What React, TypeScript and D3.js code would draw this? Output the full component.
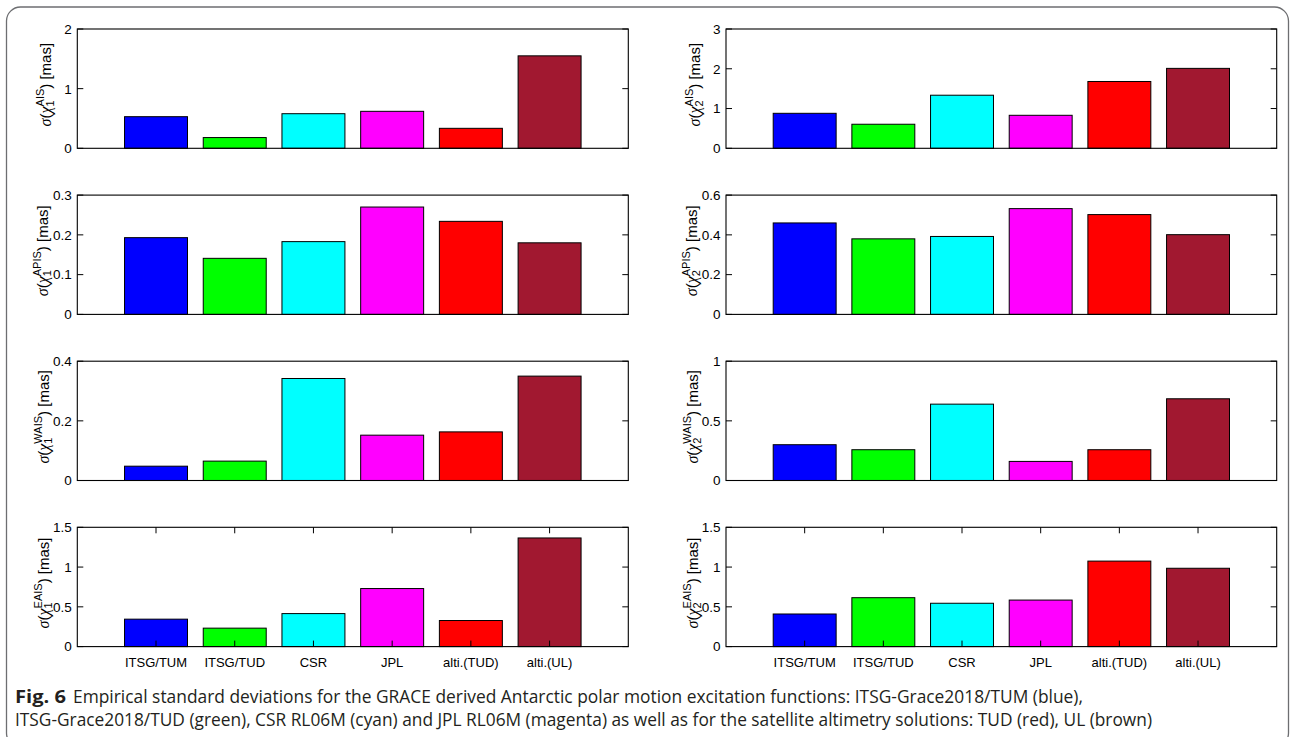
import React from "react";
import * as d3 from "d3";

const categories = ["ITSG/TUM", "ITSG/TUD", "CSR", "JPL", "alti.(TUD)", "alti.(UL)"];
const barColors = ["#0000ff", "#00ff00", "#00ffff", "#ff00ff", "#ff0000", "#a11830"];

const regions = ["AIS", "APIS", "WAIS", "EAIS"];

const chi1AIS = [0.53, 0.18, 0.58, 0.62, 0.335, 1.55];
const chi2AIS = [0.88, 0.605, 1.335, 0.83, 1.68, 2.01];
const chi1APIS = [0.193, 0.141, 0.183, 0.27, 0.234, 0.18];
const chi2APIS = [0.46, 0.38, 0.392, 0.532, 0.502, 0.401];
const chi1WAIS = [0.048, 0.065, 0.342, 0.152, 0.163, 0.35];
const chi2WAIS = [0.3, 0.258, 0.64, 0.16, 0.258, 0.685];
const chi1EAIS = [0.345, 0.232, 0.415, 0.73, 0.328, 1.366];
const chi2EAIS = [0.41, 0.615, 0.545, 0.585, 1.075, 0.985];

const ticks1 = [[0, 1, 2], [0, 0.1, 0.2, 0.3], [0, 0.2, 0.4], [0, 0.5, 1, 1.5]];
const ticks2 = [[0, 1, 2, 3], [0, 0.2, 0.4, 0.6], [0, 0.5, 1], [0, 0.5, 1, 1.5]];
const tickLabels1 = [["0", "1", "2"], ["0", "0.1", "0.2", "0.3"], ["0", "0.2", "0.4"], ["0", "0.5", "1", "1.5"]];
const tickLabels2 = [["0", "1", "2", "3"], ["0", "0.2", "0.4", "0.6"], ["0", "0.5", "1"], ["0", "0.5", "1", "1.5"]];

const values1 = [chi1AIS, chi1APIS, chi1WAIS, chi1EAIS];
const values2 = [chi2AIS, chi2APIS, chi2WAIS, chi2EAIS];

const captionBold = "Fig. 6";
const captionLine1 = "Empirical standard deviations for the GRACE derived Antarctic polar motion excitation functions: ITSG-Grace2018/TUM (blue),";
const captionLine2 = "ITSG-Grace2018/TUD (green), CSR RL06M (cyan) and JPL RL06M (magenta) as well as for the satellite altimetry solutions: TUD (red), UL (brown)";

const SANS = "'Liberation Sans', Arial, Helvetica, sans-serif";
const SERIF = "'Liberation Serif', 'Times New Roman', serif";

type PanelProps = {
  left: number;
  top: number;
  width: number;
  height: number;
  values: number[];
  ticks: number[];
  tickLabels: string[];
  sub: string;
  region: string;
  labelX: number;
  showX: boolean;
};

function Panel(p: PanelProps) {
  const x = d3.scaleLinear().domain([0, 7]).range([p.left, p.left + p.width]);
  const ymax = p.ticks[p.ticks.length - 1];
  const y = d3.scaleLinear().domain([0, ymax]).range([p.top + p.height, p.top]);
  const bw = x(0.8) - x(0);
  const tl = 6;
  const right = p.left + p.width;
  const bottom = p.top + p.height;
  const yc = p.top + p.height / 2 - 4;
  const subW = 6.1;
  return (
    <g>
      {p.values.map((v, i) => (
        <rect
          key={i}
          x={x(i + 1) - bw / 2}
          y={y(v)}
          width={bw}
          height={y(0) - y(v)}
          fill={barColors[i]}
          stroke="#000"
          strokeWidth={1}
        />
      ))}
      <rect x={p.left} y={p.top} width={p.width} height={p.height} fill="none" stroke="#000" strokeWidth={1.1} />
      {p.ticks.map((t, i) => (
        <g key={i}>
          <line x1={p.left} x2={p.left + tl} y1={y(t)} y2={y(t)} stroke="#000" />
          <line x1={right} x2={right - tl} y1={y(t)} y2={y(t)} stroke="#000" />
          <text
            x={p.left - 5.5}
            y={y(t)}
            dy="0.36em"
            textAnchor="end"
            fontSize={13.5}
            fontFamily={SANS}
            fill="#000"
          >
            {p.tickLabels[i]}
          </text>
        </g>
      ))}
      {p.showX &&
        categories.map((c, i) => (
          <g key={c}>
            <line x1={x(i + 1)} x2={x(i + 1)} y1={bottom} y2={bottom - tl} stroke="#000" />
            <line x1={x(i + 1)} x2={x(i + 1)} y1={p.top} y2={p.top + tl} stroke="#000" />
            <text x={x(i + 1)} y={bottom + 20.5} textAnchor="middle" fontSize={13} fontFamily={SANS} fill="#000">
              {c}
            </text>
          </g>
        ))}
      <text
        transform={`translate(${p.labelX},${yc}) rotate(-90)`}
        textAnchor="middle"
        fontSize={15}
        fontFamily={SANS}
        fill="#000"
      >
        <tspan fontFamily={SERIF} fontStyle="italic" fontSize={16}>σ</tspan>
        <tspan>(</tspan>
        <tspan fontFamily={SERIF} fontStyle="italic" fontSize={16}>χ</tspan>
        <tspan fontSize={11} dy={3}>{p.sub}</tspan>
        <tspan fontSize={11} dx={-subW} dy={-10.5}>{p.region}</tspan>
        <tspan dy={7.5}>) [mas]</tspan>
      </text>
    </g>
  );
}

export default function App() {
  const W = 1290;
  const H = 737;
  const rowTop0 = 29;
  const rowStep = 166.1;
  const rowH = 119.3;
  const left1 = 77.3;
  const left2 = 726;
  const pw = 551;
  const labelX1 = [51, 48, 49, 49];
  const labelX2 = [700, 697, 698, 698];
  return (
    <svg width={W} height={H} style={{ position: "absolute", left: 0, top: 0, background: "#fff" }}>
      <rect x={6.5} y={7} width={1282} height={740} rx={14} ry={14} fill="none" stroke="#6d6e71" strokeWidth={1.3} />
      {regions.map((r, k) => {
        const top = rowTop0 + k * rowStep;
        return (
          <g key={r}>
            <Panel
              left={left1}
              top={top}
              width={pw}
              height={rowH}
              values={values1[k]}
              ticks={ticks1[k]}
              tickLabels={tickLabels1[k]}
              sub="1"
              region={r}
              labelX={labelX1[k]}
              showX={k === 3}
            />
            <Panel
              left={left2}
              top={top}
              width={pw - 0.3}
              height={rowH}
              values={values2[k]}
              ticks={ticks2[k]}
              tickLabels={tickLabels2[k]}
              sub="2"
              region={r}
              labelX={labelX2[k]}
              showX={k === 3}
            />
          </g>
        );
      })}
      <text x={15} y={702.5} fontSize={18} fontWeight="bold" fontFamily="'Open Sans', sans-serif" fill="#231f20" textLength={51} lengthAdjust="spacingAndGlyphs">
        {captionBold}
      </text>
      <text x={73} y={702.5} fontSize={18} fontFamily="'Open Sans', sans-serif" fill="#231f20" textLength={1010} lengthAdjust="spacingAndGlyphs">
        {captionLine1}
      </text>
      <text x={15} y={726} fontSize={18} fontFamily="'Open Sans', sans-serif" fill="#231f20" textLength={1137} lengthAdjust="spacingAndGlyphs">
        {captionLine2}
      </text>
    </svg>
  );
}
